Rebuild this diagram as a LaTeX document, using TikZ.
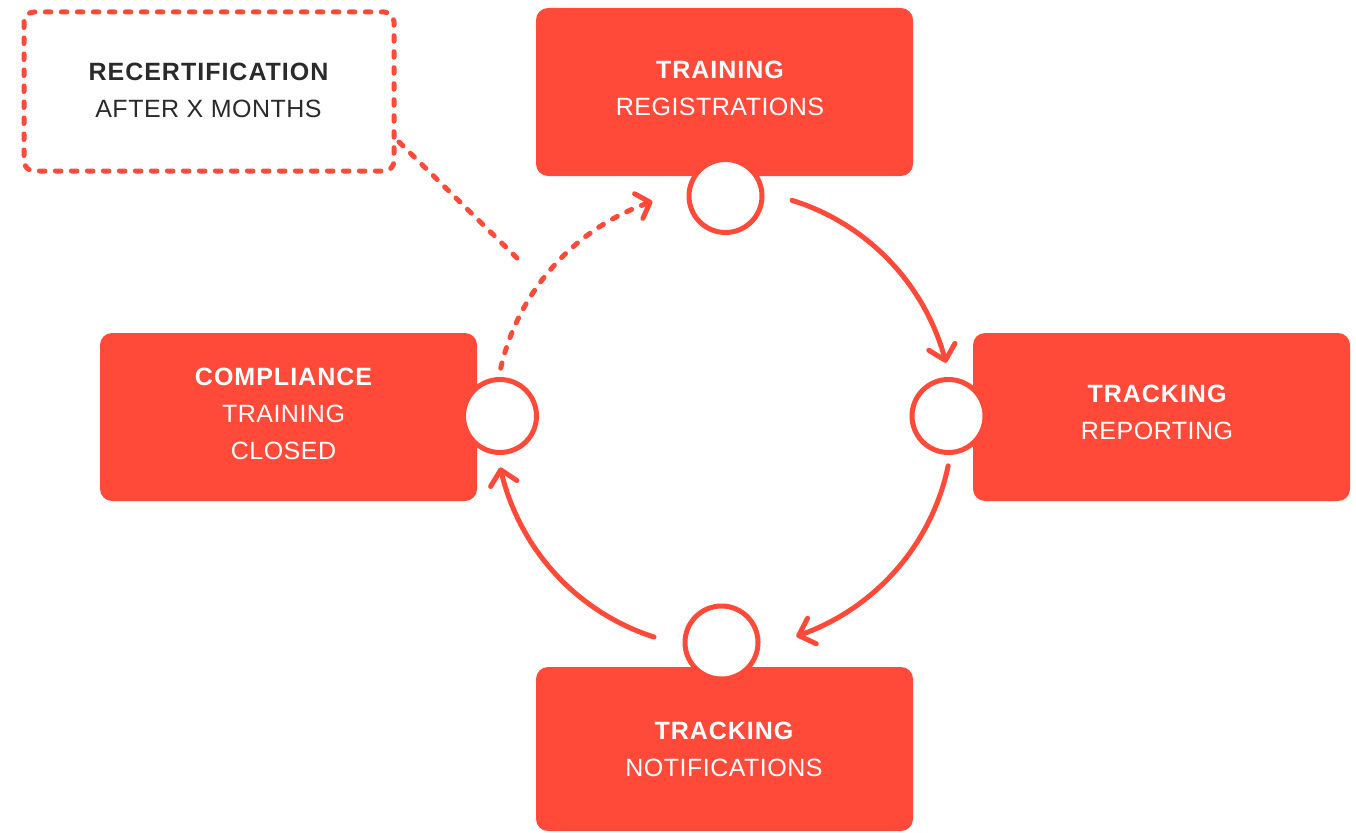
\documentclass[tikz,border=0pt]{standalone}
\usepackage{fontspec}
\setmainfont{Liberation Sans}
\newfontfamily\boldlab[LetterSpace=4]{Liberation Sans Bold}
\newfontfamily\reglab[LetterSpace=2]{Liberation Sans}
\usetikzlibrary{arrows.meta}
\definecolor{cred}{HTML}{FF4939}
\definecolor{cdark}{HTML}{2A2A2A}
\tikzset{
  redbox/.style={fill=cred, rounded corners=12pt, minimum width=377pt, inner sep=0pt},
  hub/.style={circle, draw=cred, line width=5pt, fill=white, minimum size=73pt, inner sep=0pt},
  lab/.style={text=white, align=center, font=\fontsize{25}{37}\selectfont, inner sep=0pt},
  darklab/.style={text=cdark, align=center, font=\fontsize{25}{37}\selectfont, inner sep=0pt},
  flow/.style={draw=cred, line width=5pt, line cap=round, -{Straight Barb[length=14pt,width=27pt,round]}},
  dashy/.style={draw=cred, line width=5pt, line cap=round, dash pattern=on 5.5pt off 10.5pt},
}
\begin{document}
\begin{tikzpicture}[x=1pt,y=-1pt]
\useasboundingbox (0,0) rectangle (1356,832);
% boxes
\node[redbox, minimum height=168pt] (btop) at (724.5,92) {};
\node[redbox, minimum height=168pt] (bright) at (1161.5,417) {};
\node[redbox, minimum height=168pt] (bleft) at (288.5,417) {};
\node[redbox, minimum height=164pt] (bbot) at (724.5,749) {};
% dashed box
\draw[dashy, rounded corners=10pt] (24,12) rectangle (394,171);
\node[darklab] (recert) at (208.5,90) {{\boldlab RECERTIFICATION}\\{\reglab AFTER X MONTHS}};
% labels
\node[lab] (ttop) at (720,88.5) {{\boldlab TRAINING}\\{\reglab REGISTRATIONS}};
\node[lab] (tright) at (1157,412) {{\boldlab TRACKING}\\{\reglab REPORTING}};
\node[lab] (tleft) at (283.5,414) {{\boldlab COMPLIANCE}\\{\reglab TRAINING}\\{\reglab CLOSED}};
\node[lab] (tbot) at (724,749) {{\boldlab TRACKING}\\{\reglab NOTIFICATIONS}};
% hubs
\node[hub] (htop) at (725.5,196) {};
\node[hub] (hright) at (948.5,416) {};
\node[hub] (hbot) at (721.5,642.5) {};
\node[hub] (hleft) at (500,416) {};
% cycle arcs
\draw[flow] plot[domain=-72.7:-14.2, samples=60, smooth] ({724+229*cos(\x)},{419+229*sin(\x)});
\draw[flow] plot[domain=11.8:71.6, samples=60, smooth] ({724+229*cos(\x)},{419+229*sin(\x)});
\draw[flow] plot[domain=107.8:167.8, samples=60, smooth] ({724+229*cos(\x)},{419+229*sin(\x)});
\draw[dashy, -{Straight Barb[length=12pt,width=26pt,round]}] plot[domain=192.8:251.8, samples=60, smooth] ({724+229*cos(\x)},{419+229*sin(\x)});
% dashed connector
\coordinate (dstart) at (399,142);
\coordinate (dend) at (521,262);
\draw[dashy] (dstart) -- (dend);
\end{tikzpicture}
\end{document}
